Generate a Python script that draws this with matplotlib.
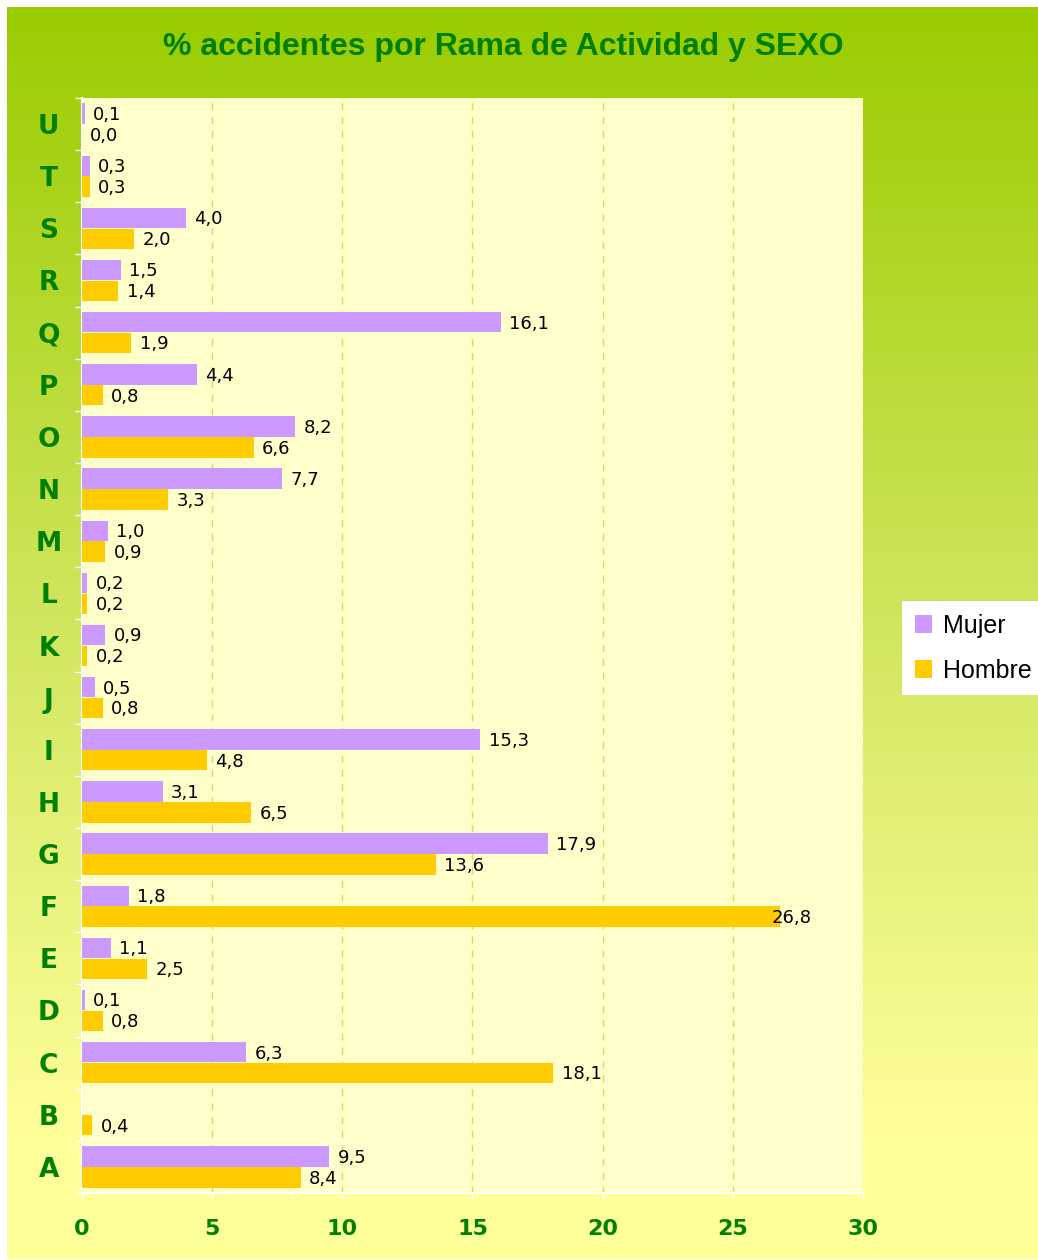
import numpy as np
import matplotlib.pyplot as plt
from matplotlib.patches import Patch
from matplotlib.colors import LinearSegmentedColormap

# --- Data: % of accidents by activity branch and sex ---
ramas = ["A", "B", "C", "D", "E", "F", "G", "H", "I", "J", "K",
         "L", "M", "N", "O", "P", "Q", "R", "S", "T", "U"]
mujer = [9.5, np.nan, 6.3, 0.1, 1.1, 1.8, 17.9, 3.1, 15.3, 0.5, 0.9,
         0.2, 1.0, 7.7, 8.2, 4.4, 16.1, 1.5, 4.0, 0.3, 0.1]
hombre = [8.4, 0.4, 18.1, 0.8, 2.5, 26.8, 13.6, 6.5, 4.8, 0.8, 0.2,
          0.2, 0.9, 3.3, 6.6, 0.8, 1.9, 1.4, 2.0, 0.3, 0.0]
x_ticks = [0, 5, 10, 15, 20, 25, 30]

# --- Colours ---
c_mujer = "#CC99FF"
c_hombre = "#FFCC00"
c_green = "#008000"
c_plot = "#FFFFCC"
c_grid = "#C6E25E"

W, H = 1038, 1260
fig = plt.figure(figsize=(W / 100, H / 100), dpi=100, facecolor="white")

# gradient background (green on top fading to pale yellow)
bg = fig.add_axes([7 / W, 1 / H, 1 - 7 / W, 1 - 8 / H])
grad_cmap = LinearSegmentedColormap.from_list(
    "bg", [(0.0, "#99CC00"), (0.5, "#D2E660"), (0.9, "#FFFF99"), (1.0, "#FFFF99")])
bg.imshow(np.linspace(0, 1, 256).reshape(-1, 1), aspect="auto", cmap=grad_cmap,
          extent=[0, 1, 1, 0])
bg.set_axis_off()

# main plot area
left, right, top, bottom = 82, 863, 98, 1193
ax = fig.add_axes([left / W, 1 - bottom / H, (right - left) / W, (bottom - top) / H])
ax.set_facecolor(c_plot)

y = np.arange(len(ramas))
bh = 0.39
mujer_arr = np.array(mujer, dtype=float)
hombre_arr = np.array(hombre, dtype=float)
ax.barh(y + 0.2, np.nan_to_num(mujer_arr), height=bh, color=c_mujer, zorder=3)
ax.barh(y - 0.2, hombre_arr, height=bh, color=c_hombre, zorder=3)

def fmt(v):
    return f"{v:.1f}".replace(".", ",")

for vals, off in ((mujer_arr, 0.2), (hombre_arr, -0.2)):
    for yi, v in zip(y, vals):
        if np.isnan(v):
            continue
        dx = -6 if v > 25 else 6
        ax.annotate(fmt(v), (v, yi + off), xytext=(dx, -1), textcoords="offset points",
                    ha="left", va="center", fontsize=13, color="black",
                    family="DejaVu Sans", zorder=4)

ax.set_xlim(0, 30)
ax.set_ylim(-0.5, len(ramas) - 0.5)
ax.set_xticks(x_ticks)
ax.set_xticklabels([str(t) for t in x_ticks], fontsize=16, fontweight="bold",
                   color=c_green, family="DejaVu Sans")
ax.set_yticks(y)
ax.set_yticklabels(ramas, fontsize=19, fontweight="bold", color=c_green,
                   family="DejaVu Sans", ha="center")
ax.set_yticks(np.arange(-0.5, len(ramas), 1), minor=True)
ax.tick_params(axis="y", which="major", length=0, pad=24)
ax.tick_params(axis="y", which="minor", length=5, color="white", width=1)
ax.tick_params(axis="x", which="major", length=5, color="white", width=1, pad=14)

ax.xaxis.grid(True, linestyle=(0, (5, 5)), color=c_grid, linewidth=1, zorder=1)
ax.set_axisbelow(True)
for s in ("top", "right"):
    ax.spines[s].set_visible(False)
for s in ("left", "bottom"):
    ax.spines[s].set_color("white")
    ax.spines[s].set_linewidth(1.5)

fig.text(503 / W, 1 - 47 / H, "% accidentes por Rama de Actividad y SEXO",
         ha="center", va="center", fontsize=23, fontweight="bold",
         color=c_green, family="Liberation Sans")

handles = [Patch(facecolor=c_mujer, label="Mujer"), Patch(facecolor=c_hombre, label="Hombre")]
leg = fig.legend(handles=handles, loc="upper left", bbox_to_anchor=(902 / W, 1 - 601 / H),
                 frameon=True, fancybox=False, facecolor="white", edgecolor="none",
                 framealpha=1, prop={"family": "Liberation Sans", "size": 18},
                 handlelength=0.7, handleheight=0.7, handletextpad=0.45,
                 borderpad=0.5, labelspacing=0.85, borderaxespad=0)

fig.savefig("out.png", dpi=100)
